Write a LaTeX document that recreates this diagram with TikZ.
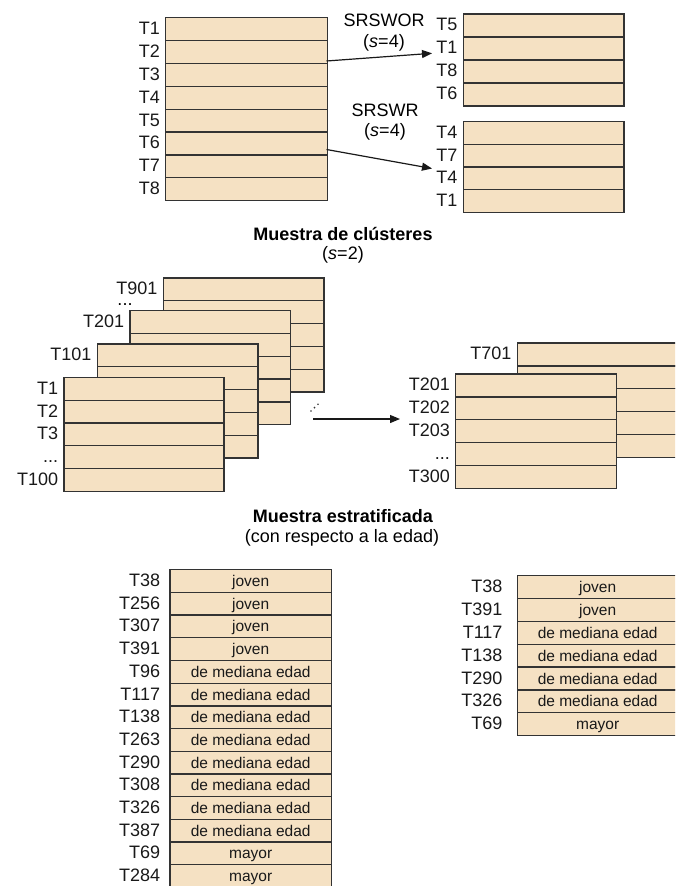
\documentclass[tikz,border=0pt]{standalone}
\usepackage{fontspec}
\setmainfont{Liberation Sans}
\usetikzlibrary{arrows.meta}
\definecolor{beige}{HTML}{F5E1C3}
\definecolor{edge}{HTML}{333333}
\newcommand\mydots{...}
\tikzset{
  cell/.style={draw=edge, fill=beige, line width=1.3pt, rectangle, inner sep=0pt, anchor=north west},
  lbl/.style={font=\fontsize{18}{21}\selectfont, inner sep=0pt, anchor=east, text=black!90, text height=13pt, text depth=0pt, yshift=1pt},
  intext/.style={font=\fontsize{15.5}{18}\selectfont, text=black!90, inner sep=0pt, text height=11pt, text depth=0pt},
  ttl/.style={font=\fontsize{18}{21}\selectfont\bfseries, inner sep=0pt},
  sub/.style={font=\fontsize{18}{21}\selectfont, inner sep=0pt},
  arr/.style={line width=1.2pt, draw=black!90, -{Triangle[length=10pt,width=8pt]}}
}
\begin{document}
\begin{tikzpicture}[x=1pt,y=-1pt]
\useasboundingbox (0,0) rectangle (675,886);
\clip (0,0) rectangle (675,886);
% ---------- top: original table ----------
\foreach \t [count=\i] in {T1,T2,T3,T4,T5,T6,T7,T8}{
  \node[cell, minimum width=161.5pt, minimum height=22.875pt] (L\i) at (165,{17+22.875*(\i-1)}) {};
  \node[lbl] (LL\i) at ([xshift=-5pt]L\i.west) {\t};
}
% SRSWOR sample
\foreach \t [count=\i] in {T5,T1,T8,T6}{
  \node[cell, minimum width=160.6pt, minimum height=23pt] (A\i) at (462.7,{13.3+23*(\i-1)}) {};
  \node[lbl] (AL\i) at ([xshift=-5pt]A\i.west) {\t};
}
% SRSWR sample
\foreach \t [count=\i] in {T4,T7,T4,T1}{
  \node[cell, minimum width=160.6pt, minimum height=22.83pt] (B\i) at (462.7,{120.7+22.83*(\i-1)}) {};
  \node[lbl] (BL\i) at ([xshift=-5pt]B\i.west) {\t};
}
\node[sub] (t1) at (384,20) {SRSWOR};
\node[sub] (t1s) at (384,43) {(\textit{s}=4)};
\node[sub] (t2) at (385,110) {SRSWR};
\node[sub] (t2s) at (385,132) {(\textit{s}=4)};
\coordinate (s1) at (326.5,61);
\coordinate (e1) at (432,53.3);
\coordinate (s2) at (326.5,149.5);
\coordinate (e2) at (432,168.5);
\draw[arr] (s1) -- (e1);
\draw[arr] (s2) -- (e2);
% ---------- cluster sample ----------
\node[ttl] (ct) at (343,234) {Muestra de clústeres};
\node[sub] (cts) at (343,255) {(\textit{s}=2)};
% back tables
\foreach \x/\y/\n/\lab in {162.7/277.3/D/T901,129.3/310/C/T201,96.7/343.3/B/T101}{
  \foreach \i in {1,...,5}{
    \node[cell, minimum width=160.6pt, minimum height=22.8pt] (K\n\i) at (\x,{\y+22.8*(\i-1)}) {};
  }
  \node[lbl] (KL\n) at ([xshift=-5pt]K\n1.west) {\lab};
}
\node[sub] (kdots) at (125,305) {\mydots};
\foreach \t [count=\i] in {T1,T2,T3,\mydots,T100}{
  \node[cell, minimum width=160pt, minimum height=22.8pt] (KA\i) at (63.3,{376.7+22.8*(\i-1)}) {};
  \node[lbl] (KAL\i) at ([xshift=-5pt]KA\i.west) {\t};
}
% diagonal dots
\fill[black!80] (311,411) circle (0.9pt) (314.5,407.6) circle (0.9pt) (318,404.2) circle (0.9pt);
\coordinate (s3) at (313,419);
\coordinate (e3) at (400,419);
\draw[arr] (s3) -- (e3);
% right cluster result
\foreach \i in {1,...,5}{
  \node[cell, minimum width=160.6pt, minimum height=22.9pt] (R\i) at (516.7,{342.3+22.9*(\i-1)}) {};
}
\node[lbl] (RL1) at ([xshift=-5pt]R1.west) {T701};
\foreach \t [count=\i] in {T201,T202,T203,\mydots,T300}{
  \node[cell, minimum width=161pt, minimum height=22.9pt] (Q\i) at (455,{373.3+22.9*(\i-1)}) {};
  \node[lbl] (QL\i) at ([xshift=-5pt]Q\i.west) {\t};
}
% ---------- stratified sample ----------
\node[ttl] (st) at (343,516) {Muestra estratificada};
\node[sub] (sts) at (342,537.5) {(con respecto a la edad)};
\foreach \t/\v [count=\i] in {T38/joven,T256/joven,T307/joven,T391/joven,T96/de mediana edad,T117/de mediana edad,T138/de mediana edad,T263/de mediana edad,T290/de mediana edad,T308/de mediana edad,T326/de mediana edad,T387/de mediana edad,T69/mayor,T284/mayor}{
  \node[cell, minimum width=161.4pt, minimum height=22.7pt] (S\i) at (169.3,{569+22.7*(\i-1)}) {};
  \node[intext] at (S\i.center) {\v};
  \node[lbl] (SL\i) at ([xshift=-9pt]S\i.west) {\t};
}
\foreach \t/\v [count=\i] in {T38/joven,T391/joven,T117/de mediana edad,T138/de mediana edad,T290/de mediana edad,T326/de mediana edad,T69/mayor}{
  \node[cell, minimum width=160.6pt, minimum height=22.86pt] (P\i) at (516.7,{575+22.86*(\i-1)}) {};
  \node[intext] at (P\i.center) {\v};
  \node[lbl] (PL\i) at ([xshift=-14pt]P\i.west) {\t};
}
\end{tikzpicture}
\end{document}
